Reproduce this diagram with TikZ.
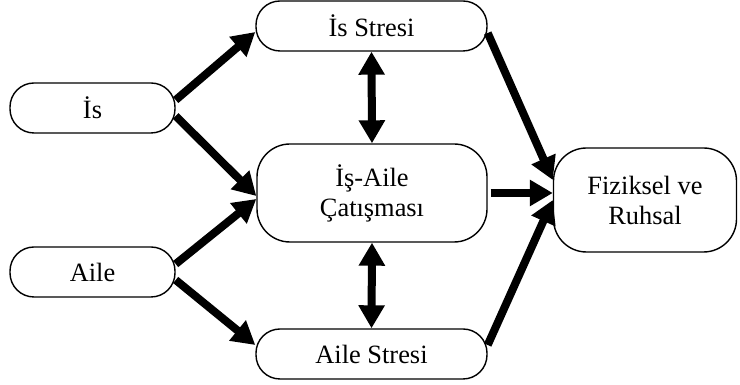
\documentclass[tikz,border=0pt]{standalone}
\usepackage{fontspec}
\setmainfont{Liberation Serif}
\usetikzlibrary{arrows.meta}

\begin{document}
\begin{tikzpicture}[x=1pt, y=1pt, >={Triangle[length=23pt, width=25pt]},
	every node/.style={font=\fontsize{26.4}{30}\selectfont, align=center, inner sep=0pt},
	pill/.style={draw, line width=1.4pt, rounded corners=24pt, minimum height=50pt},
	block/.style={draw, line width=1.4pt, rounded corners=33pt},
	link/.style={->, line width=8pt}]
	\useasboundingbox (0,0) rectangle (740,385);
	\node[pill, minimum width=165pt] (is) at (92.5,277) {İs};
	\node[pill, minimum width=165pt] (aile) at (92.5,113) {Aile};
	\node[pill, minimum width=231pt] (isstres) at (371.5,359) {İs Stresi};
	\node[block, minimum width=230pt, minimum height=98pt] (catisma) at (372,192) {İş-Aile\\Çatışması};
	\node[pill, minimum width=231pt] (ailestres) at (371.5,31) {Aile Stresi};
	\node[block, minimum width=183pt, minimum height=104pt] (sonuc) at (645,185) {Fiziksel ve\\Ruhsal};
	% girdiler
	\draw[link] ([yshift=8pt]is.east) -- ([yshift=-6pt]isstres.west);
	\draw[link] ([yshift=-8pt]is.east) -- ([yshift=-3pt]catisma.west);
	\draw[link] ([yshift=8pt]aile.east) -- ([yshift=-6pt]catisma.west);
	\draw[link] ([yshift=-8pt]aile.east) -- ([yshift=9pt]ailestres.west);
	% karsilikli iliskiler
	\draw[link, <->] (isstres.south) -- (catisma.north);
	\draw[link, <->] (catisma.south) -- (ailestres.north);
	% sonuclar
	\draw[link] ([yshift=-7pt]isstres.east) -- ([yshift=20pt]sonuc.west);
	\draw[link] ([xshift=3pt]catisma.east) -- (catisma.east -| sonuc.west);
	\draw[link] ([yshift=9pt]ailestres.east) -- (sonuc.west);
\end{tikzpicture}
\end{document}
